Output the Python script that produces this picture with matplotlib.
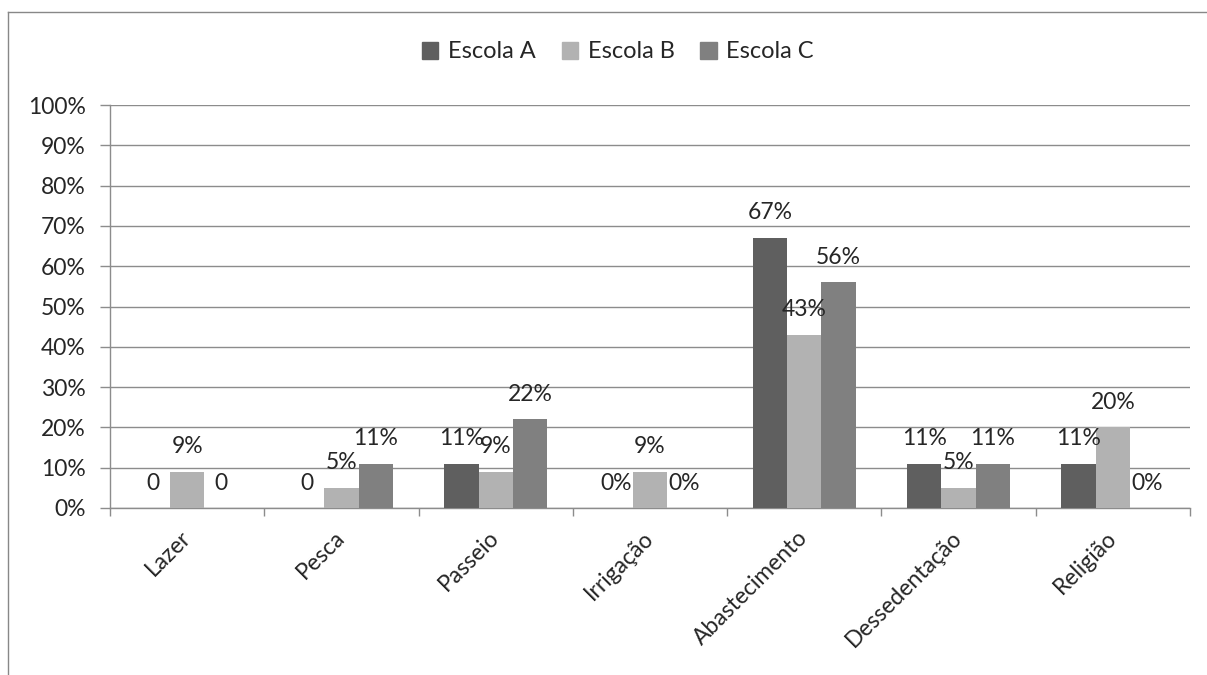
import matplotlib.pyplot as plt
import numpy as np
from matplotlib.lines import Line2D
from matplotlib.patches import Patch

usos = ["Lazer", "Pesca", "Passeio", "Irrigação", "Abastecimento",
        "Dessedentação", "Religião"]
escolas = ["Escola A", "Escola B", "Escola C"]
escola_a = [0, 0, 11, 0, 67, 11, 11]
escola_b = [9, 5, 9, 9, 43, 5, 20]
escola_c = [0, 11, 22, 0, 56, 11, 0]
# texto dos rótulos como aparece no gráfico original
rotulos_a = ["0", "0", "11%", "0%", "67%", "11%", "11%"]
rotulos_b = ["9%", "5%", "9%", "9%", "43%", "5%", "20%"]
rotulos_c = ["0", "11%", "22%", "0%", "56%", "11%", "0%"]

cores = ["#5f5f5f", "#b2b2b2", "#808080"]
txt = "#262626"
grade = "#8c8c8c"
fs = 16.5

plt.rcParams["font.family"] = ["Lato", "DejaVu Sans"]

fig = plt.figure(figsize=(12.07, 6.75), dpi=100)
ax = fig.add_axes([110 / 1207, 1 - 508 / 675, 1080 / 1207, 403 / 675])

x = np.arange(len(usos))
w = 1 / 4.5
for i, (vals, rots) in enumerate(zip([escola_a, escola_b, escola_c],
                                     [rotulos_a, rotulos_b, rotulos_c])):
    pos = x + (i - 1) * w
    ax.bar(pos, vals, width=w, color=cores[i], zorder=3)
    for px, v, r in zip(pos, vals, rots):
        ax.annotate(r, (px, v), xytext=(0, 18), textcoords="offset points",
                    ha="center", va="center", fontsize=fs, color=txt,
                    zorder=4)

ax.set_xlim(-0.5, len(usos) - 0.5)
ax.set_ylim(0, 100)
ax.set_yticks(np.arange(0, 101, 10))
ax.set_yticklabels([f"{v}%" for v in range(0, 101, 10)], fontsize=fs,
                   color=txt)
ax.yaxis.grid(True, color=grade, lw=1, zorder=0)

ax.set_xticks(x)
ax.set_xticklabels(usos, rotation=45, ha="right", va="center",
                   rotation_mode="anchor", fontsize=fs, color=txt)
ax.tick_params(axis="x", length=0, pad=19)
ax.set_xticks(np.arange(-0.5, len(usos)), minor=True)
ax.tick_params(axis="x", which="minor", length=6, color=grade, width=1)
ax.tick_params(axis="y", length=7, color=grade, width=1, pad=10.5)

for s in ["top", "right"]:
    ax.spines[s].set_visible(False)
for s in ["left", "bottom"]:
    ax.spines[s].set_color(grade)
    ax.spines[s].set_linewidth(1)

handles = [Patch(color=c) for c in cores]
fig.legend(handles, escolas, loc="center", ncol=3, frameon=False,
           bbox_to_anchor=(618 / 1207, 1 - 52 / 675), fontsize=17,
           handlelength=0.7, handleheight=0.7, handletextpad=0.4,
           columnspacing=1.1, labelcolor=txt)

# moldura do gráfico
fig.add_artist(Line2D([8 / 1207, 8 / 1207], [0, 1 - 12 / 675],
                      transform=fig.transFigure, color="#888888", lw=1))
fig.add_artist(Line2D([8 / 1207, 1], [1 - 12 / 675, 1 - 12 / 675],
                      transform=fig.transFigure, color="#888888", lw=1))

fig.savefig("out.png", dpi=100, facecolor="white")
